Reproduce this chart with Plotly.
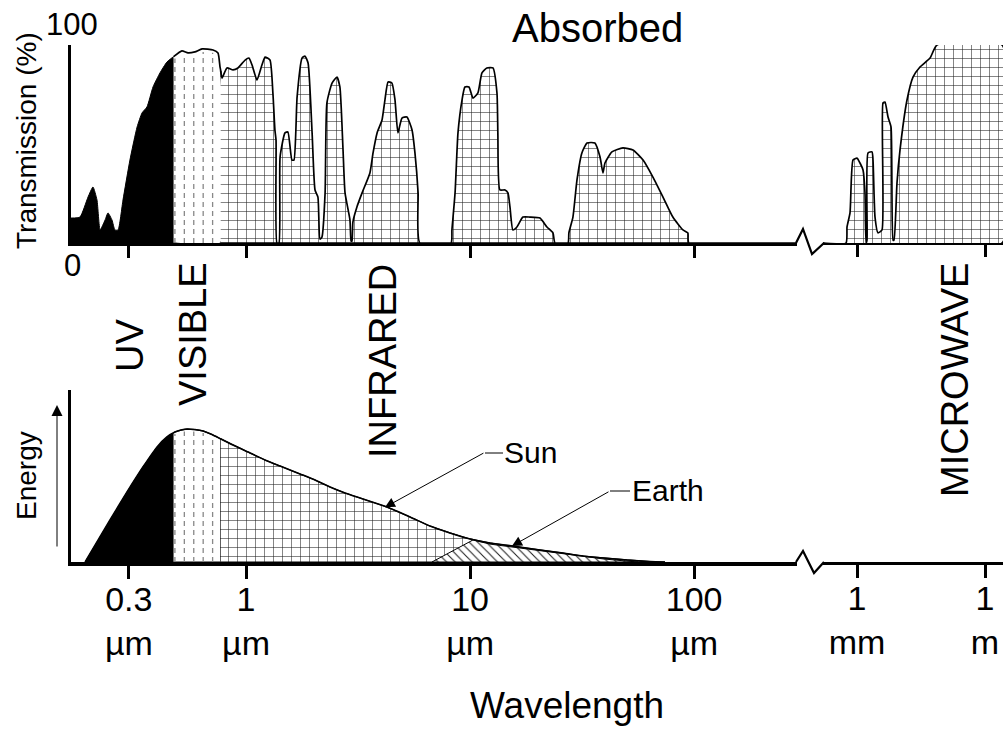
import numpy as np
import plotly.graph_objects as go

# ---------------- data ----------------
# wavelength given as log10(wavelength in micrometres)
top_log_wl = [
    -0.781, -0.741, -0.705, -0.683, -0.665, -0.651, -0.629, -0.616, -0.598, -0.585,
    -0.571, -0.549, -0.518, -0.486, -0.464, -0.442, -0.415, -0.384, -0.353, -0.326,
    -0.286, -0.259, -0.228, -0.196, -0.147, -0.125, -0.116, -0.107, -0.085, -0.058,
    -0.036, -0.004, 0.013, 0.027, 0.049, 0.071, 0.085, 0.107, 0.120, 0.129,
    0.134, 0.138, 0.147, 0.152, 0.174, 0.187, 0.205, 0.214, 0.228, 0.250,
    0.263, 0.277, 0.295, 0.308, 0.321, 0.330, 0.339, 0.353, 0.361, 0.384,
    0.406, 0.419, 0.433, 0.442, 0.464, 0.469, 0.473, 0.477, 0.495, 0.518,
    0.553, 0.567, 0.585, 0.607, 0.620, 0.634, 0.651, 0.665, 0.678, 0.696,
    0.718, 0.741, 0.754, 0.768, 0.776, 0.915, 0.919, 0.933, 0.946, 0.964,
    0.977, 0.995, 1.013, 1.035, 1.053, 1.075, 1.102, 1.120, 1.124, 1.133,
    1.156, 1.169, 1.178, 1.191, 1.209, 1.236, 1.267, 1.312, 1.343, 1.370,
    1.379, 1.437, 1.441, 1.459, 1.477, 1.499, 1.522, 1.557, 1.580, 1.593,
    1.602, 1.633, 1.682, 1.727, 1.772, 1.816, 1.861, 1.905, 1.950, 1.972,
    1.976, 2.459,
]
top_transmission = [
    12.6, 13.1, 23.2, 28.3, 21.7, 6.6, 11.6, 15.2, 11.6, 6.6,
    6.6, 21.7, 41.9, 58.6, 65.7, 68.7, 78.8, 85.9, 91.4, 93.9,
    97.0, 96.0, 96.5, 98.0, 97.5, 96.0, 88.9, 83.3, 88.4, 87.4,
    88.4, 92.4, 93.4, 89.9, 82.3, 89.9, 93.9, 92.4, 75.8, 57.1,
    52.0, 0.0, 0.0, 43.4, 55.6, 56.1, 41.9, 41.9, 73.7, 93.4,
    94.4, 90.9, 55.6, 26.8, 23.2, 2.0, 3.0, 25.3, 70.7, 80.8,
    83.8, 78.8, 47.0, 25.3, 11.6, 1.0, 1.0, 10.6, 18.2, 25.3,
    35.4, 45.5, 55.6, 62.1, 72.2, 81.3, 80.8, 72.2, 55.6, 63.1,
    63.6, 57.1, 45.5, 25.3, 0.0, 0.0, 6.6, 25.3, 55.6, 72.2,
    78.8, 78.8, 73.2, 75.8, 85.9, 88.4, 88.4, 75.8, 55.6, 26.8,
    26.8, 25.3, 18.2, 6.6, 8.1, 13.1, 13.1, 12.6, 8.1, 5.1,
    0.0, 0.0, 5.1, 13.1, 31.8, 45.5, 50.5, 50.5, 43.4, 35.4,
    40.4, 46.0, 48.0, 47.0, 41.9, 33.3, 23.2, 13.1, 6.6, 5.1,
    0.0, 0.0,
]

mw_log_wl = [
    2.203, 2.742, 2.766, 2.836, 2.906, 3.000, 3.070, 3.141, 3.187, 3.211,
    3.234, 3.258, 3.352, 3.375, 3.422, 3.492, 3.586, 3.609, 3.656, 3.727,
    3.797, 3.844, 3.867, 3.937, 4.008, 4.172, 4.312, 4.476, 4.711, 4.875,
    6.398,
]
mw_transmission = [
    0.0, 0.0, 8.1, 15.2, 41.9, 42.9, 40.4, 36.9, 25.3, 0.0,
    1.5, 45.5, 46.0, 41.9, 13.1, 5.1, 6.6, 70.7, 71.2, 63.6,
    58.6, 1.5, 1.5, 30.3, 47.0, 72.2, 83.8, 88.9, 93.4, 100.0,
    100.0,
]

sun_log_wl = [
    -0.718, -0.607, -0.531, -0.460, -0.397, -0.353, -0.317, -0.290, -0.263, -0.228,
    -0.192, -0.152, -0.112, -0.049, 0.018, 0.085, 0.152, 0.241, 0.308, 0.375,
    0.442, 0.509, 0.629, 0.732, 0.821, 0.910, 1.000, 1.089, 1.191, 1.312,
    1.415, 1.504, 1.593, 1.700, 1.803, 1.870,
]
sun_energy = [
    0.0, 0.244, 0.407, 0.552, 0.669, 0.727, 0.756, 0.767, 0.773, 0.770,
    0.762, 0.741, 0.715, 0.674, 0.634, 0.593, 0.558, 0.512, 0.477, 0.436,
    0.401, 0.372, 0.320, 0.262, 0.209, 0.169, 0.134, 0.110, 0.093, 0.070,
    0.052, 0.035, 0.023, 0.012, 0.003, 0.0,
]

earth_log_wl = [0.830, 1.013, 1.089, 1.191, 1.312, 1.415, 1.504, 1.593, 1.700, 1.750]
earth_energy = [0.0, 0.128, 0.104, 0.087, 0.065, 0.047, 0.031, 0.018, 0.005, 0.0]

uv_visible_um = 0.475
visible_ir_um = 0.771

main_ticks = [0.3, 1, 10, 100]
main_ticktext = ["0.3<br>µm", "1<br>µm", "10<br>µm", "100<br>µm"]
mw_ticks = [1e3, 1e6]
mw_ticktext = ["1<br>mm", "1<br>m"]

# ---------------- helpers ----------------
W, H = 1005, 754
FONT = "Liberation Sans, Arial, Helvetica, sans-serif"


def pxx(x):
    return x / W


def pxy(y):
    return 1 - y / H


def band(lx, ly, lo, hi):
    lx = np.asarray(lx, float)
    ly = np.asarray(ly, float)
    inner = (lx > lo) & (lx < hi)
    xs = np.concatenate([[lo], lx[inner], [hi], [hi, lo]])
    ys = np.concatenate([[np.interp(lo, lx, ly)], ly[inner], [np.interp(hi, lx, ly)], [0, 0]])
    return 10 ** xs, ys


def dashed_lines(lx, ly, lo, hi):
    pos = np.linspace(lo, hi, 6)[:-1] + 0.006
    xs, ys = [], []
    for p in pos:
        top = np.interp(p, lx, ly)
        xs += [10 ** p, 10 ** p, None]
        ys += [0, top * 0.985, None]
    return xs, ys


grid_pattern = dict(shape="+", size=9, solidity=0.12, fgcolor="#222", bgcolor="white", fillmode="replace")
hatch_pattern = dict(shape="\\", size=6, solidity=0.18, fgcolor="#222", bgcolor="white", fillmode="replace")

lo_uv = np.log10(uv_visible_um)
lo_ir = np.log10(visible_ir_um)

fig = go.Figure()


def add_spectrum(lx, ly, xa, ya, lw, shape):
    # UV: solid black
    x, y = band(lx, ly, lx[0], lo_uv)
    fig.add_trace(go.Scatter(x=x, y=y, xaxis=xa, yaxis=ya, mode="lines", fill="toself",
                             fillcolor="black", line=dict(color="black", width=1, shape=shape, smoothing=0.5),
                             hoverinfo="skip"))
    # Visible: white with dashed lines
    x, y = band(lx, ly, lo_uv, lo_ir)
    fig.add_trace(go.Scatter(x=x, y=y, xaxis=xa, yaxis=ya, mode="lines", fill="toself",
                             fillcolor="white", line=dict(color="black", width=lw, shape=shape, smoothing=0.5),
                             hoverinfo="skip"))
    dx, dy = dashed_lines(lx, ly, lo_uv, lo_ir)
    fig.add_trace(go.Scatter(x=dx, y=dy, xaxis=xa, yaxis=ya, mode="lines",
                             line=dict(color="#888", width=1.3, dash="5px,4px"), hoverinfo="skip"))
    # Infrared: grid
    x, y = band(lx, ly, lo_ir, lx[-1])
    fig.add_trace(go.Scatter(x=x, y=y, xaxis=xa, yaxis=ya, mode="lines", fill="toself",
                             fillpattern=grid_pattern,
                             line=dict(color="black", width=lw, shape=shape, smoothing=0.5),
                             hoverinfo="skip"))


# top panel
add_spectrum(top_log_wl, top_transmission, "x", "y", 1.7, "spline")
x, y = band(mw_log_wl, mw_transmission, mw_log_wl[0], mw_log_wl[-1])
fig.add_trace(go.Scatter(x=x, y=y, xaxis="x2", yaxis="y2", mode="lines", fill="toself",
                         fillpattern=grid_pattern,
                         line=dict(color="black", width=1.7, shape="spline", smoothing=0.5),
                         hoverinfo="skip"))

# bottom panel
add_spectrum(sun_log_wl, sun_energy, "x3", "y3", 1.2, "linear")
ex = np.concatenate([earth_log_wl, [earth_log_wl[0]]])
ey = np.concatenate([earth_energy, [earth_energy[0]]])
fig.add_trace(go.Scatter(x=10 ** ex, y=ey, xaxis="x3", yaxis="y3", mode="lines", fill="toself",
                         fillpattern=hatch_pattern, line=dict(color="black", width=1), hoverinfo="skip"))
fig.add_trace(go.Scatter(x=10 ** np.asarray(sun_log_wl), y=sun_energy, xaxis="x3", yaxis="y3",
                         mode="lines", line=dict(color="black", width=1.6, shape="spline", smoothing=0.6),
                         hoverinfo="skip"))
# (no energy drawn in the microwave part of the lower panel; keeps its axis present)
fig.add_trace(go.Scatter(x=mw_ticks, y=[0, 0], xaxis="x4", yaxis="y4", mode="lines",
                         line=dict(color="rgba(0,0,0,0)", width=0), hoverinfo="skip"))

# ---------------- axes ----------------
main_dom = [pxx(71), pxx(797)]
mw_dom = [pxx(823), pxx(1003)]
main_range = [-0.781, 2.459]
mw_range = [2.203, 6.4216]
top_dom = [pxy(243), pxy(45)]
bot_dom = [pxy(562), pxy(390)]

common_x = dict(type="log", showgrid=False, zeroline=False, showline=True, linecolor="black",
                ticks="outside", tickcolor="black", tickwidth=2.5)
tick_font = dict(size=34, family=FONT, color="black")

fig.update_layout(
    width=W, height=H, margin=dict(l=0, r=0, t=0, b=0),
    paper_bgcolor="white", plot_bgcolor="rgba(0,0,0,0)", showlegend=False,
    font=dict(family=FONT, color="black"),
    xaxis=dict(common_x, domain=main_dom, range=main_range, anchor="y", linewidth=3,
               tickvals=main_ticks, showticklabels=False, ticklen=12),
    yaxis=dict(domain=top_dom, range=[0, 100], anchor="x", showgrid=False, zeroline=False,
               showline=True, linecolor="black", linewidth=3, showticklabels=False, ticks=""),
    xaxis2=dict(common_x, domain=mw_dom, range=mw_range, anchor="y2", linewidth=2.2,
                tickvals=mw_ticks, showticklabels=False, ticklen=12),
    yaxis2=dict(domain=top_dom, range=[0, 100], anchor="x2", visible=False),
    xaxis3=dict(common_x, domain=main_dom, range=main_range, anchor="y3", linewidth=4,
                tickvals=main_ticks, ticktext=main_ticktext, ticklen=13,
                tickfont=tick_font, ticklabelstandoff=-9),
    yaxis3=dict(domain=bot_dom, range=[0, 1], anchor="x3", showgrid=False, zeroline=False,
                showline=True, linecolor="black", linewidth=3, showticklabels=False, ticks=""),
    xaxis4=dict(common_x, domain=mw_dom, range=mw_range, anchor="y4", linewidth=2.5,
                tickvals=mw_ticks, ticktext=mw_ticktext, ticklen=13,
                tickfont=tick_font, ticklabelstandoff=-9),
    yaxis4=dict(domain=bot_dom, range=[0, 1], anchor="x4", visible=False),
)

# ---------------- axis breaks (zigzags) ----------------
def zig(pts):
    d = "M " + " L ".join(f"{pxx(a):.5f},{pxy(b):.5f}" for a, b in pts)
    return dict(type="path", xref="paper", yref="paper", path=d, line=dict(color="black", width=2.2))


shapes = [
    zig([(796, 243), (803, 229), (812, 254), (824, 243)]),
    zig([(796, 562), (803, 551), (814, 573), (824, 562)]),
    dict(type="line", xref="paper", yref="paper", x0=pxx(485), y0=pxy(453), x1=pxx(503), y1=pxy(453),
         line=dict(color="black", width=1)),
    dict(type="line", xref="paper", yref="paper", x0=pxx(610), y0=pxy(491), x1=pxx(630), y1=pxy(491),
         line=dict(color="black", width=1)),
]
fig.update_layout(shapes=shapes)

# ---------------- text ----------------
def txt(text, x, y, size, angle=0):
    return dict(text=text, x=pxx(x), y=pxy(y), xref="paper", yref="paper", showarrow=False,
                xanchor="center", yanchor="middle", textangle=angle,
                font=dict(size=size, family=FONT, color="black"))


annotations = [
    txt("100", 72, 25, 31),
    txt("0", 72, 265, 31),
    txt("Absorbed", 597, 28, 40),
    txt("Transmission (%)", 26, 141, 28, -90),
    txt("Energy", 26, 476, 28, -90),
    txt("UV", 130, 346, 38, -90),
    txt("VISIBLE", 193, 334, 38, -90),
    txt("INFRARED", 383, 361, 38, -90),
    txt("MICROWAVE", 955, 380, 38, -90),
    txt("Wavelength", 567, 705, 37),
    txt("Sun", 530, 452, 30),
    txt("Earth", 668, 490, 30),
    # Energy arrow
    dict(text="", x=pxx(57), y=pxy(405), xref="paper", yref="paper", showarrow=True,
         ax=0, ay=143, arrowhead=2, arrowsize=2.2, arrowwidth=1, arrowcolor="black"),
    # leader arrows
    dict(text="", x=0.620, y=0.318, xref="x3", yref="y3", showarrow=True,
         ax=100, ay=-55, arrowhead=2, arrowsize=2, arrowwidth=1, arrowcolor="black"),
    dict(text="", x=1.187, y=0.093, xref="x3", yref="y3", showarrow=True,
         ax=98, ay=-55, arrowhead=2, arrowsize=2, arrowwidth=1, arrowcolor="black"),
]
fig.update_layout(annotations=annotations)

fig.write_html("out.html")
